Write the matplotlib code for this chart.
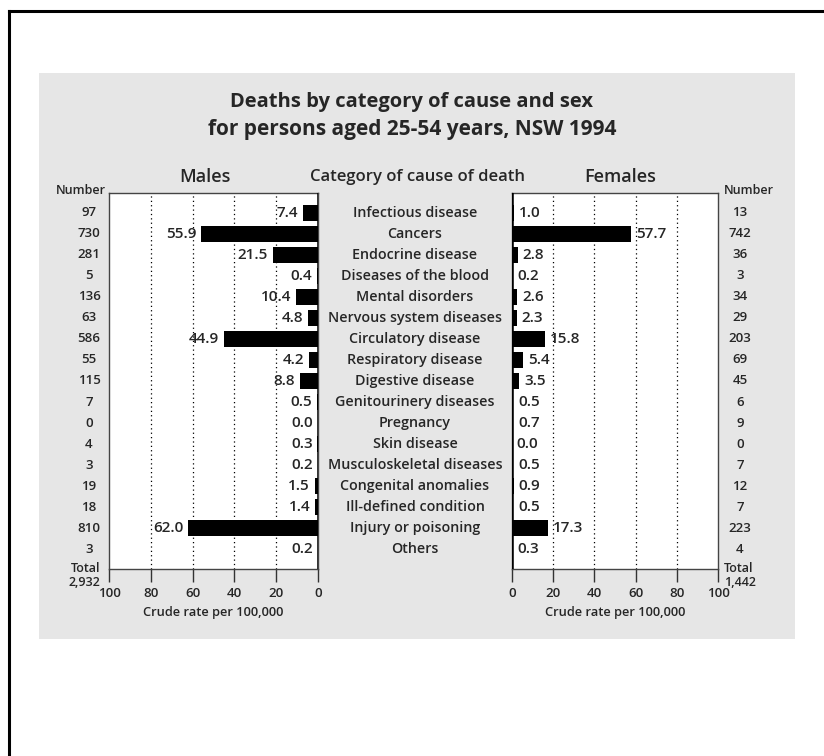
import matplotlib
matplotlib.use("Agg")
import matplotlib.pyplot as plt
import matplotlib.transforms as mtransforms
from matplotlib.patches import Rectangle
from matplotlib.lines import Line2D

plt.rcParams['font.family'] = ['Open Sans', 'DejaVu Sans']

categories = ["Infectious disease", "Cancers", "Endocrine disease", "Diseases of the blood",
              "Mental disorders", "Nervous system diseases", "Circulatory disease",
              "Respiratory disease", "Digestive disease", "Genitourinery diseases",
              "Pregnancy", "Skin disease", "Musculoskeletal diseases", "Congenital anomalies",
              "Ill-defined condition", "Injury or poisoning", "Others"]
male_rate = [7.4, 55.9, 21.5, 0.4, 10.4, 4.8, 44.9, 4.2, 8.8, 0.5, 0.0, 0.3, 0.2, 1.5, 1.4, 62.0, 0.2]
male_number = [97, 730, 281, 5, 136, 63, 586, 55, 115, 7, 0, 4, 3, 19, 18, 810, 3]
female_rate = [1.0, 57.7, 2.8, 0.2, 2.6, 2.3, 15.8, 5.4, 3.5, 0.5, 0.7, 0.0, 0.5, 0.9, 0.5, 17.3, 0.3]
female_number = [13, 742, 36, 3, 34, 29, 203, 69, 45, 6, 9, 0, 7, 12, 7, 223, 4]
male_total = "2,932"
female_total = "1,442"
ticks = [0, 20, 40, 60, 80, 100]

W, H = 824, 756
fig = plt.figure(figsize=(W / 100, H / 100), dpi=100)
fig.patch.set_facecolor('white')

TXT = '#262626'

def fx(px):
    return px / W

def fy(py):
    return 1 - py / H

# grey panel
fig.patches.append(Rectangle((fx(39), fy(639)), fx(795) - fx(39), fy(73) - fy(639),
                             transform=fig.transFigure, facecolor='#e6e6e6', edgecolor='none', zorder=-10))
# outer border (top and left)
fig.lines.append(Line2D([fx(9), fx(W + 5)], [fy(11), fy(11)], transform=fig.transFigure,
                        color='black', lw=2.2, zorder=-5))
fig.lines.append(Line2D([fx(9), fx(9)], [fy(11), fy(H + 5)], transform=fig.transFigure,
                        color='black', lw=2.2, zorder=-5))

# titles
fig.text(fx(412), fy(102), "Deaths by category of cause and sex", ha='center', va='center',
         fontsize=14.5, fontweight='bold', color=TXT)
fig.text(fx(412), fy(130), "for persons aged 25-54 years, NSW 1994", ha='center', va='center',
         fontsize=15, fontweight='bold', color=TXT)
fig.text(fx(205), fy(177), "Males", ha='center', va='center', fontsize=13, fontweight='semibold', color=TXT)
fig.text(fx(417), fy(177), "Category of cause of death", ha='center', va='center', fontsize=12,
         fontweight='semibold', color=TXT)
fig.text(fx(620), fy(177), "Females", ha='center', va='center', fontsize=13, fontweight='semibold', color=TXT)

top, bot = 193, 569
axm = fig.add_axes([fx(109), fy(bot), fx(318) - fx(109), fy(top) - fy(bot)])
axf = fig.add_axes([fx(512), fy(bot), fx(718) - fx(512), fy(top) - fy(bot)])

n = len(categories)
ypos = list(range(n))

for ax, rates, side in ((axm, male_rate, 'm'), (axf, female_rate, 'f')):
    ax.set_facecolor('white')
    ax.set_ylim(n - 1 + 0.95, -0.95)
    if side == 'm':
        ax.set_xlim(100, 0)
    else:
        ax.set_xlim(0, 100)
    for t in [20, 40, 60, 80]:
        ax.axvline(t, color='black', lw=0.9, ls=(0, (1, 2.5)), zorder=1)
    ax.barh(ypos, rates, height=0.75, color='black', zorder=3)
    ax.axvline(0, color='black', lw=1.8, zorder=4)
    for i, v in enumerate(rates):
        if side == 'm':
            ax.annotate(f"{v:.1f}", (v, i), xytext=(-3.5, 0), textcoords='offset points',
                        ha='right', va='center', fontsize=11, fontweight='semibold', color=TXT, zorder=5)
        else:
            ax.annotate(f"{v:.1f}", (v, i), xytext=(3.5, 0), textcoords='offset points',
                        ha='left', va='center', fontsize=11, fontweight='semibold', color=TXT, zorder=5)
    ax.set_xticks(ticks)
    ax.set_xticklabels([str(t) for t in ticks], fontsize=9.5, color=TXT, fontweight='semibold')
    ax.set_yticks([])
    ax.tick_params(axis='x', direction='out', length=9, width=1, color='#333333', pad=4)
    ax.set_xlabel("Crude rate per 100,000", fontsize=9.3, color=TXT, fontweight='semibold', labelpad=4)
    for s in ax.spines.values():
        s.set_color('#444444')
        s.set_linewidth(1.0)

# category labels and numbers
trm = mtransforms.blended_transform_factory(fig.transFigure, axm.transData)
for i, c in enumerate(categories):
    axm.text(fx(415), i, c, transform=trm, ha='center', va='center', fontsize=10.3,
             fontweight='semibold', color=TXT, clip_on=False)
    axm.text(fx(89), i, str(male_number[i]), transform=trm, ha='center', va='center', fontsize=9.5,
             fontweight='semibold', color=TXT, clip_on=False)
    axm.text(fx(740), i, str(female_number[i]), transform=trm, ha='center', va='center', fontsize=9.5,
             fontweight='semibold', color=TXT, clip_on=False)

fig.text(fx(106), fy(191), "Number", ha='right', va='center', fontsize=9, fontweight='semibold', color=TXT)
fig.text(fx(724), fy(191), "Number", ha='left', va='center', fontsize=9, fontweight='semibold', color=TXT)
fig.text(fx(100), fy(569), "Total", ha='right', va='center', fontsize=9, fontweight='semibold', color=TXT)
fig.text(fx(100), fy(582), male_total, ha='right', va='center', fontsize=9, fontweight='semibold', color=TXT)
fig.text(fx(724), fy(569), "Total", ha='left', va='center', fontsize=9, fontweight='semibold', color=TXT)
fig.text(fx(724), fy(582), female_total, ha='left', va='center', fontsize=9, fontweight='semibold', color=TXT)

fig.savefig("out.png", dpi=100)
